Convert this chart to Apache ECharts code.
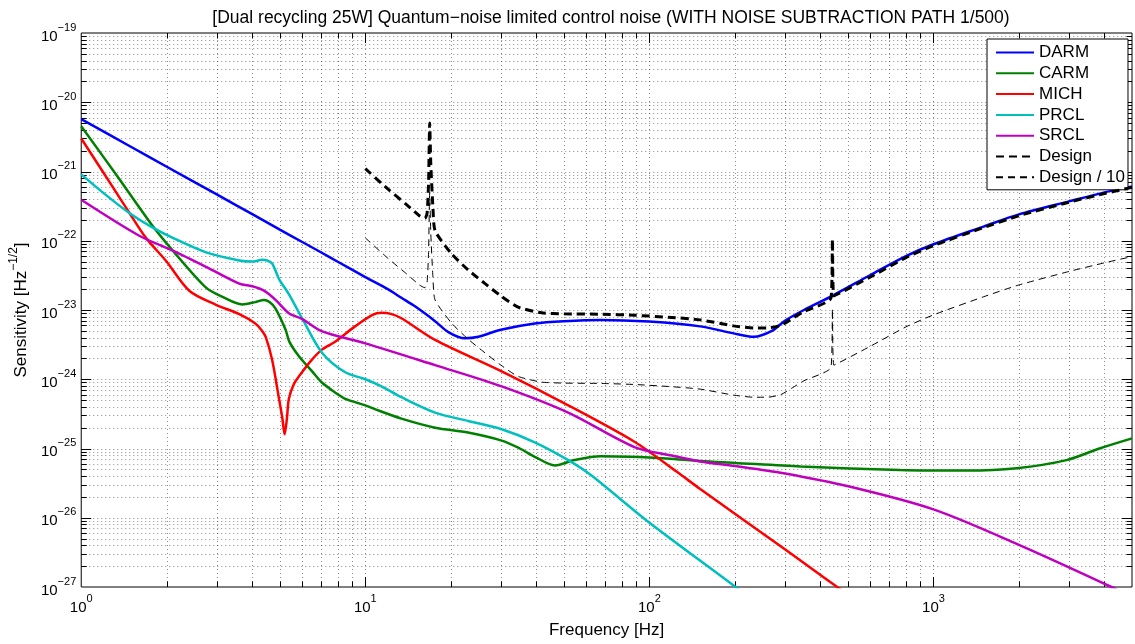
<!DOCTYPE html>
<html><head><meta charset="utf-8">
<script src="https://cdn.jsdelivr.net/npm/echarts@6/dist/echarts.min.js"></script>
<style>html,body{margin:0;padding:0;background:#fff}#c{width:1135px;height:644px}</style>
</head><body><div id="c"></div>
<script>
// ---- tick labels (decade exponents) ----
const xTickExps = [0, 1, 2, 3];
const yTickExps = [-27, -26, -25, -24, -23, -22, -21, -20, -19];

// ---- series data (frequency [Hz], sensitivity) ----
const darmF = [1, 1.5, 2, 3, 4, 5, 6, 7, 8, 10, 12, 13.4, 15, 17.6, 19.6, 22.4, 25, 30, 39.5, 50, 67.5, 100, 151, 198, 233, 270, 300, 350, 440, 600, 800, 1000, 1500, 2000, 3000, 4000, 5000];
const darmV = [5.7e-21, 2.26e-21, 1.17e-21, 4.66e-22, 2.42e-22, 1.45e-22, 9.6e-23, 6.76e-23, 4.98e-23, 2.99e-23, 2.0e-23, 1.5e-23, 1.12e-23, 6.9e-24, 4.8e-24, 3.9e-24, 4.1e-24, 5.2e-24, 6.4e-24, 6.9e-24, 7.2e-24, 6.8e-24, 5.8e-24, 4.6e-24, 4.1e-24, 5.0e-24, 7.0e-24, 1.0e-23, 1.6e-23, 3.2e-23, 6.0e-23, 8.9e-23, 1.6e-22, 2.4e-22, 3.7e-22, 5.0e-22, 6.1e-22];

const carmF = [1, 1.33, 1.79, 2.1, 2.75, 3.14, 3.69, 4.1, 4.4, 4.6, 4.83, 5.24, 5.4, 5.84, 6.5, 7.05, 7.85, 8.5, 10, 10.8, 13.4, 17.6, 23, 30.2, 35, 39.5, 46.5, 54.5, 67.5, 85, 115, 151, 200, 341, 763, 1310, 1963, 2940, 3840, 5000];
const carmV = [4.5e-21, 8.9e-22, 1.6e-22, 7.2e-23, 2.1e-23, 1.55e-23, 1.2e-23, 1.3e-23, 1.4e-23, 1.3e-23, 1.05e-23, 5.2e-24, 3.5e-24, 2.15e-24, 1.3e-24, 8.9e-25, 6.4e-25, 5.2e-25, 4.2e-25, 3.7e-25, 2.7e-25, 2.0e-25, 1.7e-25, 1.3e-25, 1.0e-25, 7.6e-26, 5.7e-26, 6.8e-26, 7.7e-26, 7.6e-26, 7.2e-26, 6.6e-26, 6.2e-26, 5.5e-26, 4.9e-26, 4.8e-26, 5.2e-26, 6.8e-26, 1.0e-25, 1.4e-25];

const michF = [1, 1.3, 1.48, 1.69, 1.99, 2.4, 2.97, 3.6, 4.1, 4.3, 4.46, 4.7, 4.97, 5.1, 5.2, 5.3, 5.38, 5.6, 5.84, 6.4, 7.05, 7.85, 9.2, 10.6, 11.4, 12.3, 13.4, 17.6, 30.2, 51.8, 88.6, 125, 151, 300, 458, 600];
const michV = [3.0e-21, 5.7e-22, 2.5e-22, 1.1e-22, 5.1e-23, 1.9e-23, 1.2e-23, 8.7e-24, 6.4e-24, 5.2e-24, 4.1e-24, 1.9e-24, 5.2e-25, 2.8e-25, 1.6e-25, 2.8e-25, 5.2e-25, 8.5e-25, 1.1e-24, 1.8e-24, 2.7e-24, 3.5e-24, 5.8e-24, 8.5e-24, 9.1e-24, 8.8e-24, 7.6e-24, 3.7e-24, 1.3e-24, 4.2e-25, 1.25e-25, 4.6e-26, 2.6e-26, 3.5e-27, 1.0e-27, 4.8e-28];

const prclF = [1, 1.22, 1.48, 1.76, 2.1, 2.75, 3.6, 4.0, 4.34, 4.5, 4.7, 4.97, 5.38, 6.0, 7.05, 8.5, 10, 11.4, 13.4, 17.6, 23, 30.2, 39.5, 51.8, 62.4, 98.5, 201, 250];
const prclV = [9.1e-22, 4.6e-22, 2.5e-22, 1.6e-22, 1.1e-22, 6.8e-23, 5.2e-23, 5.0e-23, 5.3e-23, 5.2e-23, 4.7e-23, 2.8e-23, 1.7e-23, 7.5e-24, 2.4e-24, 1.26e-24, 1.0e-24, 7.9e-25, 5.5e-25, 3.3e-25, 2.5e-25, 1.9e-25, 1.23e-25, 6.8e-26, 4.1e-26, 8.9e-27, 1.0e-27, 5.0e-28];

const srclF = [1, 1.6, 2.1, 2.75, 3.6, 4.0, 4.4, 4.83, 5.38, 6.0, 7.05, 10, 17.6, 30.2, 51.8, 88.6, 120, 151, 200, 297, 510, 1000, 1963, 4230, 5000];
const srclV = [3.9e-22, 1.18e-22, 7.2e-23, 4.2e-23, 2.4e-23, 2.2e-23, 1.9e-23, 1.4e-23, 9.0e-24, 7.4e-24, 4.9e-24, 3.3e-24, 1.6e-24, 7.9e-25, 3.3e-25, 1.05e-25, 7.9e-26, 6.5e-26, 5.6e-26, 4.4e-26, 2.8e-26, 1.32e-26, 4.2e-27, 1.0e-27, 7.0e-28];

const designF = [10, 12, 14, 15.5, 16.2, 16.5, 16.7, 16.85, 17.0, 17.3, 17.6, 20.1, 23, 26.4, 30, 34.5, 41.7, 50, 67.5, 88.6, 120, 151, 198, 233, 260, 290, 320, 350, 436, 441, 446, 600, 800, 1000, 1500, 2000, 3000, 4000, 5000];
const designV = [1.1e-21, 5.6e-22, 3.3e-22, 2.3e-22, 2.1e-22, 2.5e-22, 7.0e-22, 5.0e-21, 1.3e-21, 3.0e-22, 1.4e-22, 6.5e-23, 3.8e-23, 2.4e-23, 1.6e-23, 1.1e-23, 9.1e-24, 8.8e-24, 8.7e-24, 8.4e-24, 7.8e-24, 7.2e-24, 5.9e-24, 5.5e-24, 5.5e-24, 6.0e-24, 7.6e-24, 9.5e-24, 1.5e-23, 1.05e-22, 1.6e-23, 3.0e-23, 5.7e-23, 8.5e-23, 1.55e-22, 2.3e-22, 3.6e-22, 4.8e-22, 5.9e-22];

const design10F = [10, 12, 14, 15.5, 16.2, 16.5, 16.7, 16.85, 17.0, 17.3, 17.6, 20.1, 23, 26.4, 30, 34.5, 41.7, 50, 67.5, 88.6, 120, 151, 198, 233, 260, 290, 320, 350, 436, 441, 446, 600, 800, 1000, 1500, 2000, 3000, 4000, 5000];
const design10V = [1.1e-22, 5.6e-23, 3.3e-23, 2.3e-23, 2.1e-23, 2.5e-23, 7.0e-23, 5.0e-22, 1.3e-22, 3.0e-23, 1.4e-23, 6.5e-24, 3.8e-24, 2.4e-24, 1.6e-24, 1.1e-24, 9.1e-25, 8.8e-25, 8.7e-25, 8.4e-25, 7.8e-25, 7.2e-25, 5.9e-25, 5.5e-25, 5.5e-25, 6.0e-25, 7.6e-25, 9.5e-25, 1.5e-24, 1.05e-23, 1.6e-24, 3.0e-24, 5.7e-24, 8.5e-24, 1.55e-23, 2.3e-23, 3.6e-23, 4.8e-23, 5.9e-23];

const seriesNames = ['DARM', 'CARM', 'MICH', 'PRCL', 'SRCL', 'Design', 'Design / 10'];

// ---- build ----
// y axis is a value axis over log10(sensitivity) (ECharts' log scale cannot resolve values ~1e-27)
const FONT = '"Liberation Sans", Arial, Helvetica, sans-serif';
const X_MIN = Math.pow(10, xTickExps[0]), X_MAX = 5000;
const Y_MIN = yTickExps[0], Y_MAX = yTickExps[yTickExps.length - 1];

function pairs(f, v) { return f.map((x, i) => [x, Math.log10(v[i])]); }

const xGrid = [];
xTickExps.forEach(e => { for (let m = 1; m <= 9; m++) { const v = m * Math.pow(10, e); if (v <= X_MAX) xGrid.push([v, 0, m === 1 ? 1 : 0]); } });
const yGrid = [];
yTickExps.forEach(e => { for (let m = 1; m <= 9; m++) { const v = e + Math.log10(m); if (v <= Y_MAX + 1e-9) yGrid.push([10, v, m === 1 ? 1 : 0]); } });

const GRID_STYLE = { stroke: 'rgba(0,0,0,0.45)', lineWidth: 1, lineDash: [1, 3] };
const TICK_STYLE = { stroke: '#000', lineWidth: 1 };

function renderV(params, api) {
  const cs = params.coordSys;
  const major = api.value(2) === 1;
  const x = Math.round(api.coord([api.value(0), -23])[0]) + 0.5;
  const top = cs.y, bot = cs.y + cs.height;
  const tl = major ? 10 : 5.5;
  const ch = [];
  if (x > cs.x + 1.5 && x < cs.x + cs.width - 1.5) {
    ch.push({ type: 'line', shape: { x1: x, y1: top, x2: x, y2: bot }, style: GRID_STYLE });
    ch.push({ type: 'line', shape: { x1: x, y1: bot, x2: x, y2: bot - tl }, style: TICK_STYLE });
    ch.push({ type: 'line', shape: { x1: x, y1: top, x2: x, y2: top + tl }, style: TICK_STYLE });
  }
  return { type: 'group', children: ch };
}
function renderH(params, api) {
  const cs = params.coordSys;
  const major = api.value(2) === 1;
  const y = Math.round(api.coord([10, api.value(1)])[1]) + 0.5;
  const l = cs.x, r = cs.x + cs.width;
  const tl = major ? 10 : 5.5;
  const ch = [];
  if (y > cs.y + 1.5 && y < cs.y + cs.height - 1.5) {
    ch.push({ type: 'line', shape: { x1: l, y1: y, x2: r, y2: y }, style: GRID_STYLE });
    ch.push({ type: 'line', shape: { x1: l, y1: y, x2: l + tl, y2: y }, style: TICK_STYLE });
    ch.push({ type: 'line', shape: { x1: r, y1: y, x2: r - tl, y2: y }, style: TICK_STYLE });
  }
  return { type: 'group', children: ch };
}

function expStr(r) { return r < 0 ? '\u2212' + (-r) : String(r); }
function xLabel(val) {
  const e = Math.log10(val), r = Math.round(e);
  if (Math.abs(e - r) > 1e-6 || xTickExps.indexOf(r) < 0) return '';
  return '{b|10}{s|' + expStr(r) + '}';
}
function yLabel(val) {
  const r = Math.round(val);
  if (Math.abs(val - r) > 1e-6 || yTickExps.indexOf(r) < 0) return '';
  return '{b|10}{s|' + expStr(r) + '}';
}
const labelRich = {
  b: { fontSize: 15, fontFamily: FONT, color: '#000', lineHeight: 22, verticalAlign: 'bottom' },
  s: { fontSize: 11, fontFamily: FONT, color: '#000', lineHeight: 22, verticalAlign: 'top' }
};

const colors = ['#0000ff', '#008000', '#ff0000', '#00bfbf', '#bf00bf', '#000000', '#000000'];
const datas = [pairs(darmF, darmV), pairs(carmF, carmV), pairs(michF, michV), pairs(prclF, prclV), pairs(srclF, srclV), pairs(designF, designV), pairs(design10F, design10V)];
const widths = [2.5, 2.5, 2.5, 2.5, 2.5, 3, 1];
const dashes = ['solid', 'solid', 'solid', 'solid', 'solid', [8, 5], [7, 5]];
const smoothing = [0.3, 0.3, 0.3, 0.3, 0.3, 0.2, 0.2];

const lineSeries = seriesNames.map((n, i) => ({
  name: n, type: 'line', data: datas[i], showSymbol: false, symbol: 'none',
  smooth: smoothing[i],
  clip: true, silent: true, animation: false, z: 3 + i,
  lineStyle: { color: colors[i], width: widths[i], type: dashes[i] },
  itemStyle: { color: colors[i] }
}));

const chart = echarts.init(document.getElementById('c'), null, { renderer: 'canvas' });
chart.setOption({
  animation: false,
  backgroundColor: '#fff',
  title: {
    text: '[Dual recycling 25W] Quantum\u2212noise limited control noise (WITH NOISE SUBTRACTION PATH 1/500)',
    left: 606, top: 4, textAlign: 'center',
    textStyle: { fontSize: 17.5, fontWeight: 'normal', fontFamily: FONT, color: '#000' }
  },
  legend: {
    data: seriesNames, orient: 'vertical', left: 987, top: 39,
    backgroundColor: '#fff', borderColor: '#000', borderWidth: 1,
    padding: [5, 3, 4, 8], itemGap: 3.8, itemWidth: 38, itemHeight: 16,
    itemStyle: { opacity: 0, borderWidth: 0 },
    textStyle: { fontSize: 17, fontFamily: FONT, color: '#000' },
    selectedMode: false
  },
  grid: { left: 78, right: 1, top: 33, bottom: 51, show: true, borderColor: '#000', borderWidth: 1, containLabel: false },
  xAxis: {
    type: 'log', logBase: 10, min: X_MIN, max: X_MAX, splitNumber: 4,
    name: 'Frequency [Hz]', nameLocation: 'middle', nameGap: 35,
    nameTextStyle: { fontSize: 17, fontFamily: FONT, color: '#000' },
    axisLine: { show: false }, axisTick: { show: false }, splitLine: { show: false },
    axisLabel: { formatter: xLabel, rich: labelRich, margin: 6, showMaxLabel: true, showMinLabel: true }
  },
  yAxis: {
    type: 'value', min: Y_MIN, max: Y_MAX, interval: 1,
    name: '{a|Sensitivity [Hz}{s|\u22121/2}{a|]}', nameLocation: 'middle', nameGap: 50, nameRotate: 90,
    nameTextStyle: { rich: {
      a: { fontSize: 17, fontFamily: FONT, color: '#000', lineHeight: 22, verticalAlign: 'bottom' },
      s: { fontSize: 12, fontFamily: FONT, color: '#000', lineHeight: 22, verticalAlign: 'top' } } },
    axisLine: { show: false }, axisTick: { show: false }, splitLine: { show: false },
    axisLabel: { formatter: yLabel, rich: labelRich, margin: 5, showMaxLabel: true, showMinLabel: true }
  },
  series: [
    { type: 'custom', name: 'gridV', renderItem: renderV, data: xGrid, encode: { x: 0, y: 1 }, silent: true, z: 1, animation: false, clip: false },
    { type: 'custom', name: 'gridH', renderItem: renderH, data: yGrid, encode: { x: 0, y: 1 }, silent: true, z: 1, animation: false, clip: false }
  ].concat(lineSeries)
});
</script>
</body></html>
